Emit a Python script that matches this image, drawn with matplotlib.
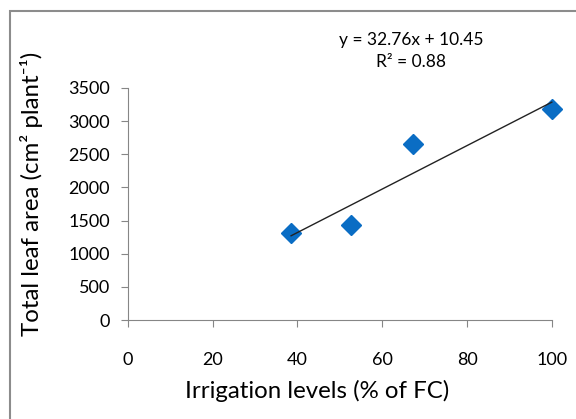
import matplotlib
matplotlib.use("Agg")
import matplotlib.pyplot as plt
from matplotlib.patches import Rectangle

plt.rcParams['font.family'] = ['Lato', 'DejaVu Sans']

# irrigation level (% of FC) and total leaf area (cm2 per plant)
irrigation = [38.5, 52.6, 67.2, 100]
leaf_area = [1320, 1440, 2650, 3180]
# trendline as printed on the chart
slope, intercept = 32.76, 10.45
r2 = 0.88
xticks = [0, 20, 40, 60, 80, 100]
yticks = [0, 500, 1000, 1500, 2000, 2500, 3000, 3500]

W, H = 576, 419
fig = plt.figure(figsize=(5.76, 4.19), dpi=100)
ax = fig.add_axes([0.222, 0.236, 0.736, 0.554])

# chart border (cut off at right and bottom like the original)
fig.patches.append(Rectangle((10/W, -0.1), 1.2, (H-11)/H + 0.1,
                             transform=fig.transFigure, fill=False,
                             edgecolor='#8c8c8c', linewidth=1.5))

ax.plot(irrigation, leaf_area, linestyle='none', marker='D', markersize=10,
        color='#0a6dc4', clip_on=False, zorder=3)
x0, x1 = min(irrigation), max(irrigation)
ax.plot([x0, x1], [slope*x0 + intercept, slope*x1 + intercept],
        color='#222222', linewidth=1, clip_on=False, zorder=4)

ax.set_xlim(0, 100)
ax.set_ylim(0, 3500)
ax.set_xticks(xticks)
ax.set_yticks(yticks)
for s in ['top', 'right']:
    ax.spines[s].set_visible(False)
for s in ['left', 'bottom']:
    ax.spines[s].set_color('#868686')
ax.tick_params(axis='x', direction='out', length=5, color='#868686',
               pad=18, labelsize=13)
ax.tick_params(axis='y', direction='out', length=5, color='#868686',
               pad=8, labelsize=13)

# axis titles are centred on the chart area, not the plot area
fig.text(317/W, 1 - 391/H, 'Irrigation levels (% of FC)', fontsize=17.3,
         ha='center', va='center')
fig.text(32/W, 1 - 194/H, 'Total leaf area (cm² plant⁻¹)', fontsize=17.3,
         ha='center', va='center', rotation=90)

fig.text(411/W, 1 - 40/H, 'y = %.2fx + %.2f' % (slope, intercept),
         ha='center', va='center', fontsize=12.5)
fig.text(411/W, 1 - 62/H, 'R² = %.2f' % r2,
         ha='center', va='center', fontsize=12.5)

fig.savefig('out.png', dpi=100)
